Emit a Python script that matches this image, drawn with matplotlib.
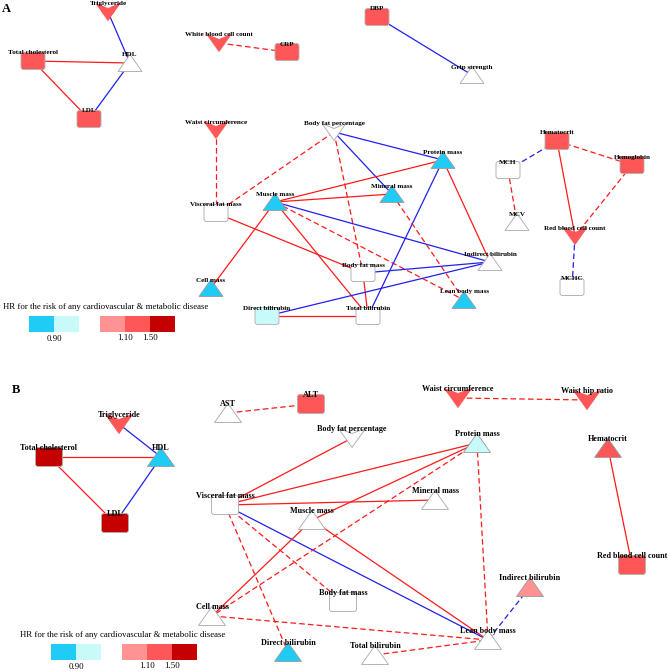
import matplotlib
matplotlib.use("Agg")
import matplotlib.pyplot as plt
from matplotlib.patches import Polygon, FancyBboxPatch, Rectangle

plt.rcParams['font.family'] = ['Liberation Serif', 'DejaVu Serif']

# цвета категорий HR
hr_colors = {
    'low': '#20CBF5',      # < 0.90
    'lowmid': '#C8FAFA',   # 0.90 - 1.00
    'none': '#FFFFFF',
    'mid': '#FF9393',      # 1.00 - 1.10
    'high': '#FF5757',     # 1.10 - 1.50
    'top': '#C40000',      # > 1.50
}
edge_colors = {'pos': '#FF1A1A', 'neg': '#2020F0'}

# ---------- Panel A ----------
a_names = ['Triglyceride', 'Total cholesterol', 'HDL', 'LDL', 'White blood cell count', 'CRP',
           'DBP', 'Grip strength', 'Waist circumference', 'Body fat percentage', 'Protein mass',
           'Mineral mass', 'Muscle mass', 'Visceral fat mass', 'Indirect bilirubin', 'Body fat mass',
           'Cell mass', 'Lean body mass', 'Direct bilirubin', 'Total bilirubin', 'MCH', 'Hematocrit',
           'Hemoglobin', 'MCV', 'Red blood cell count', 'MCHC']
a_shapes = ['v', 's', '^', 's', 'v', 's', 's', '^', 'v', 'v', '^', '^', '^', 's', '^', 's',
            '^', '^', 's', 's', 's', 's', 's', '^', 'v', 's']
a_hr = ['high', 'high', 'none', 'high', 'high', 'high', 'high', 'none', 'high', 'none', 'low',
        'low', 'low', 'none', 'none', 'none', 'low', 'low', 'lowmid', 'none', 'none', 'high',
        'high', 'none', 'high', 'none']
a_edges = [
    ('Triglyceride', 'HDL', 'neg', 'solid'),
    ('Total cholesterol', 'HDL', 'pos', 'solid'),
    ('Total cholesterol', 'LDL', 'pos', 'solid'),
    ('LDL', 'HDL', 'neg', 'solid'),
    ('White blood cell count', 'CRP', 'pos', 'dashed'),
    ('DBP', 'Grip strength', 'neg', 'solid'),
    ('Waist circumference', 'Visceral fat mass', 'pos', 'dashed'),
    ('Body fat percentage', 'Visceral fat mass', 'pos', 'dashed'),
    ('Body fat percentage', 'Protein mass', 'neg', 'solid'),
    ('Body fat percentage', 'Mineral mass', 'neg', 'solid'),
    ('Body fat percentage', 'Body fat mass', 'pos', 'dashed'),
    ('Muscle mass', 'Protein mass', 'pos', 'solid'),
    ('Muscle mass', 'Mineral mass', 'pos', 'solid'),
    ('Muscle mass', 'Indirect bilirubin', 'neg', 'solid'),
    ('Muscle mass', 'Lean body mass', 'pos', 'dashed'),
    ('Muscle mass', 'Cell mass', 'pos', 'solid'),
    ('Muscle mass', 'Total bilirubin', 'pos', 'solid'),
    ('Visceral fat mass', 'Body fat mass', 'pos', 'solid'),
    ('Protein mass', 'Indirect bilirubin', 'pos', 'solid'),
    ('Protein mass', 'Total bilirubin', 'neg', 'solid'),
    ('Mineral mass', 'Lean body mass', 'pos', 'dashed'),
    ('Body fat mass', 'Indirect bilirubin', 'neg', 'solid'),
    ('Body fat mass', 'Total bilirubin', 'pos', 'solid'),
    ('Direct bilirubin', 'Indirect bilirubin', 'neg', 'solid'),
    ('Direct bilirubin', 'Total bilirubin', 'pos', 'solid'),
    ('Hematocrit', 'MCH', 'neg', 'dashed'),
    ('Hematocrit', 'Hemoglobin', 'pos', 'dashed'),
    ('Hematocrit', 'Red blood cell count', 'pos', 'solid'),
    ('Hemoglobin', 'Red blood cell count', 'pos', 'dashed'),
    ('MCH', 'MCV', 'pos', 'dashed'),
    ('Red blood cell count', 'MCHC', 'neg', 'dashed'),
]
# раскладка сети (пиксели)
a_layout = {
    'Triglyceride': (108, 12), 'Total cholesterol': (33, 61), 'HDL': (130, 63), 'LDL': (89, 119),
    'White blood cell count': (219, 43), 'CRP': (287, 52), 'DBP': (377, 17),
    'Grip strength': (472, 75), 'Waist circumference': (216, 130),
    'Body fat percentage': (334, 132), 'Protein mass': (443, 160), 'Mineral mass': (392, 194),
    'Muscle mass': (275, 202), 'Visceral fat mass': (216, 213), 'Indirect bilirubin': (490, 262),
    'Body fat mass': (363, 273), 'Cell mass': (211, 288), 'Lean body mass': (464, 300),
    'Direct bilirubin': (267, 316), 'Total bilirubin': (368, 316), 'MCH': (508, 170),
    'Hematocrit': (557, 141), 'Hemoglobin': (632, 165), 'MCV': (517, 222),
    'Red blood cell count': (575, 236), 'MCHC': (572, 287),
}

# ---------- Panel B ----------
b_names = ['Triglyceride', 'Total cholesterol', 'HDL', 'LDL', 'AST', 'ALT', 'Body fat percentage',
           'Waist circumference', 'Waist hip ratio', 'Protein mass', 'Hematocrit', 'Mineral mass',
           'Visceral fat mass', 'Muscle mass', 'Red blood cell count', 'Indirect bilirubin',
           'Body fat mass', 'Cell mass', 'Lean body mass', 'Direct bilirubin', 'Total bilirubin']
b_shapes = ['v', 's', '^', 's', '^', 's', 'v', 'v', 'v', '^', '^', '^', 's', '^', 's', '^',
            's', '^', '^', '^', '^']
b_hr = ['high', 'top', 'low', 'top', 'none', 'high', 'none', 'high', 'high', 'lowmid', 'high',
        'none', 'none', 'none', 'high', 'mid', 'none', 'none', 'none', 'low', 'none']
b_edges = [
    ('AST', 'ALT', 'pos', 'dashed'),
    ('Triglyceride', 'HDL', 'neg', 'solid'),
    ('Total cholesterol', 'HDL', 'pos', 'solid'),
    ('Total cholesterol', 'LDL', 'pos', 'solid'),
    ('LDL', 'HDL', 'neg', 'solid'),
    ('Waist circumference', 'Waist hip ratio', 'pos', 'dashed'),
    ('Hematocrit', 'Red blood cell count', 'pos', 'solid'),
    ('Visceral fat mass', 'Body fat percentage', 'pos', 'solid'),
    ('Visceral fat mass', 'Protein mass', 'pos', 'solid'),
    ('Visceral fat mass', 'Mineral mass', 'pos', 'solid'),
    ('Visceral fat mass', 'Lean body mass', 'neg', 'solid'),
    ('Visceral fat mass', 'Direct bilirubin', 'pos', 'dashed'),
    ('Visceral fat mass', 'Body fat mass', 'pos', 'dashed'),
    ('Protein mass', 'Muscle mass', 'pos', 'solid'),
    ('Protein mass', 'Cell mass', 'pos', 'dashed'),
    ('Protein mass', 'Lean body mass', 'pos', 'dashed'),
    ('Muscle mass', 'Lean body mass', 'pos', 'solid'),
    ('Muscle mass', 'Cell mass', 'pos', 'solid'),
    ('Cell mass', 'Lean body mass', 'pos', 'dashed'),
    ('Total bilirubin', 'Lean body mass', 'pos', 'dashed'),
    ('Indirect bilirubin', 'Lean body mass', 'neg', 'dashed'),
]
b_layout = {
    'Triglyceride': (119, 424), 'Total cholesterol': (49, 457), 'HDL': (161, 457),
    'LDL': (115, 523), 'AST': (228, 413), 'ALT': (311, 404), 'Body fat percentage': (352, 438),
    'Waist circumference': (458, 398), 'Waist hip ratio': (587, 400), 'Protein mass': (477, 443),
    'Hematocrit': (608, 448), 'Mineral mass': (435, 500), 'Visceral fat mass': (225, 505),
    'Muscle mass': (312, 520), 'Red blood cell count': (632, 565),
    'Indirect bilirubin': (530, 587), 'Body fat mass': (343, 602), 'Cell mass': (212, 616),
    'Lean body mass': (488, 640), 'Direct bilirubin': (288, 652), 'Total bilirubin': (375, 655),
}

legend_cats = ['low', 'lowmid', 'mid', 'high', 'top']
legend_title = 'HR for the risk of any cardiovascular & metabolic disease'

W, H = 669, 672
fig = plt.figure(figsize=(W / 100, H / 100), dpi=100)
ax = fig.add_axes([0, 0, 1, 1])
ax.set_xlim(0, W)
ax.set_ylim(H, 0)
ax.axis('off')


def draw_node(x, y, shape, cat, w, h):
    fc = hr_colors[cat]
    ec = '#A8A8A8' if cat == 'none' else '#9A9A9A'
    if shape == '^':
        p = Polygon([(x - w / 2, y + h / 2), (x + w / 2, y + h / 2), (x, y - h / 2)],
                    closed=True, fc=fc, ec=ec, lw=0.6, zorder=3)
    elif shape == 'v':
        p = Polygon([(x - w / 2, y - h / 2), (x, y - h / 2 + 5), (x + w / 2, y - h / 2), (x, y + h / 2)],
                    closed=True, fc=fc, ec=ec if cat == 'none' else fc, lw=0.6, zorder=3)
    else:
        p = FancyBboxPatch((x - w / 2, y - h / 2), w, h, boxstyle='round,pad=0,rounding_size=2.5',
                           fc=fc, ec=ec if cat == 'none' else '#B0B0B0', lw=0.6, zorder=3)
    ax.add_patch(p)


def draw_panel(names, shapes, hrs, edges, layout, w, h, fs):
    for s, t, sign, style in edges:
        x0, y0 = layout[s]
        x1, y1 = layout[t]
        ln, = ax.plot([x0, x1], [y0, y1], color=edge_colors[sign], lw=0.9, zorder=2,
                      solid_capstyle='butt')
        if style == 'dashed':
            ln.set_dashes((4.5, 2.5))
    for n, sh, c in zip(names, shapes, hrs):
        x, y = layout[n]
        draw_node(x, y, sh, c, w, h)
        ax.text(x, y - h / 2 + 0.5, n, ha='center', va='center', fontsize=fs,
                fontweight='bold', zorder=5)


def draw_legend(x, y, title_x, title_y):
    ax.text(title_x, title_y, legend_title, ha='left', va='center', fontsize=6.3)
    bw, bh = 25, 16
    xs = [x, x + bw, x + 2 * bw + 21, x + 3 * bw + 21, x + 4 * bw + 21]
    for xx, c in zip(xs, legend_cats):
        ax.add_patch(Rectangle((xx, y), bw, bh, fc=hr_colors[c], ec='none', zorder=3))
    ax.text(x + bw, y + bh + 7, '0.90', ha='center', va='center', fontsize=6.3)
    ax.text(xs[3], y + bh + 6, '1.10', ha='center', va='center', fontsize=6.3)
    ax.text(xs[4], y + bh + 6, '1.50', ha='center', va='center', fontsize=6.3)


draw_panel(a_names, a_shapes, a_hr, a_edges, a_layout, 24, 17, 5.1)
draw_panel(b_names, b_shapes, b_hr, b_edges, b_layout, 27, 19, 5.9)
draw_legend(29, 316, 3, 307)
draw_legend(51, 644, 20, 635)

ax.text(2, 9, 'A', fontsize=9, fontweight='bold', ha='left', va='center')
ax.text(12, 390, 'B', fontsize=9, fontweight='bold', ha='left', va='center')

fig.savefig('out.png', dpi=100)
